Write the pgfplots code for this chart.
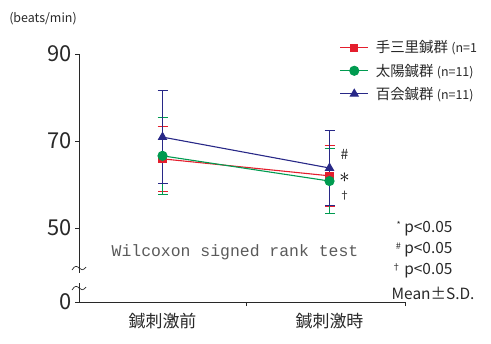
\documentclass[border=0pt]{standalone}
\usepackage{fontspec}
\setmainfont{Noto Sans CJK JP}
\newfontfamily\monofont{Liberation Mono}
\usepackage{pgfplots}
\pgfplotsset{compat=1.18}
\definecolor{cred}{RGB}{228,30,45}
\definecolor{cgreen}{RGB}{0,155,80}
\definecolor{cblue}{RGB}{40,40,135}
\definecolor{txt}{RGB}{40,40,40}
\definecolor{wtxt}{RGB}{90,90,90}
\begin{document}
\begin{tikzpicture}[x=1bp,y=1bp]
\path[use as bounding box] (0,0) rectangle (491,343);
\begin{axis}[
  at={(79bp,41bp)}, anchor=south west, scale only axis,
  width=326bp, height=248bp,
  xmin=0, xmax=1.952, ymin=33.0, ymax=90,
  axis lines*=left,
  axis line style={txt, line width=0.8bp},
  tick style={txt, line width=0.8bp},
  major tick length=4bp, tick align=outside,
  ytick={33.0,50,70,90}, yticklabels={0,50,70,90},
  xtick={1,1.952}, xticklabels={,},
  extra x ticks={0.5,1.5},
  extra x tick labels={鍼刺激前,鍼刺激時},
  extra x tick style={major tick length=0pt},
  y tick label style={font=\fontsize{22}{22}\selectfont, text=txt},
  x tick label style={font=\fontsize{17}{17}\selectfont, text=txt, yshift=-8bp},
  /pgf/number format/assume math mode=true,
  clip=false,
  legend style={at={(axis description cs:0.79,1.07)}, anchor=north west,
    draw=none, fill=none, font=\fontsize{14.5}{16}\selectfont, text=txt,
    row sep=5.5bp, cells={anchor=west}},
  legend image code/.code={\draw[mark repeat=2,mark phase=2,#1] plot coordinates {(0bp,0bp)(14bp,0bp)(28bp,0bp)};},
]
\addplot+[cred, mark=square*, mark size=3.5bp, line width=1.1bp, mark options={solid, fill=cred},
  error bars/.cd, y dir=both, y explicit, error bar style={line width=1bp, cred},
  error mark options={cred, mark size=5bp, line width=1bp, rotate=90}]
  table[x=x, y=y, y error=e] {
x y e
0.5 65.9 7.4
1.5 62.0 7.0
};
\addlegendentry{\hspace{5bp}手三里鍼群 {\fontsize{12.5}{14}\selectfont (n=1}}
\addplot+[cgreen, mark=*, mark size=4.5bp, line width=1.1bp, mark options={solid, fill=cgreen},
  error bars/.cd, y dir=both, y explicit, error bar style={line width=1bp, cgreen},
  error mark options={cgreen, mark size=5bp, line width=1bp, rotate=90}]
  table[x=x, y=y, y error=e] {
x y e
0.5 66.6 8.8
1.5 60.8 7.5
};
\addlegendentry{\hspace{5bp}太陽鍼群 {\fontsize{12.5}{14}\selectfont (n=11)}}
\addplot+[cblue, mark=triangle*, mark size=4.5bp, line width=1.1bp, mark options={solid, fill=cblue},
  error bars/.cd, y dir=both, y explicit, error bar style={line width=1bp, cblue},
  error mark options={cblue, mark size=5bp, line width=1bp, rotate=90}]
  table[x=x, y=y, y error=e] {
x y e
0.5 70.9 10.7
1.5 63.8 8.7
};
\addlegendentry{\hspace{5bp}百会鍼群 {\fontsize{12.5}{14}\selectfont (n=11)}}
\node[font=\fontsize{14}{14}\selectfont, text=txt, inner sep=0pt] at (axis cs:1.59,66.9) {\#};
\node[text=black, inner sep=0pt] at (axis cs:1.59,61.6) {\fontsize{20}{20}\selectfont$\ast$};
\node[font=\fontsize{11}{11}\selectfont, text=txt, inner sep=0pt] at (axis cs:1.59,57.4) {†};
\node[font=\monofont\fontsize{16.5}{17}\selectfont, text=wtxt] at (axis cs:0.934,44.5) {Wilcoxon signed rank test};
\end{axis}
% axis break
\fill[white] (76,60) rectangle (82,70);
\draw[txt, line width=0.7bp] (72,73) .. controls (75,78) and (77,77) .. (79,75) .. controls (81,73) and (83,72) .. (86,76);
\draw[txt, line width=0.7bp] (72,53) .. controls (75,58) and (77,57) .. (79,55) .. controls (81,53) and (83,52) .. (86,56);
\node[font=\fontsize{12.5}{14}\selectfont, text=txt] at (43,324) {(beats/min)};
\node[anchor=east, font=\fontsize{15.5}{16}\selectfont, text=txt] at (456,114) {\raisebox{4bp}{\fontsize{9}{9}\selectfont *} p<0.05};
\node[anchor=east, font=\fontsize{15.5}{16}\selectfont, text=txt] at (456,93) {\raisebox{4bp}{\fontsize{9}{9}\selectfont \#} p<0.05};
\node[anchor=east, font=\fontsize{15.5}{16}\selectfont, text=txt] at (456,72) {\raisebox{4bp}{\fontsize{9}{9}\selectfont †} p<0.05};
\node[anchor=east, font=\fontsize{15.5}{16}\selectfont, text=txt] at (478,50) {Mean±S.D.};
\end{tikzpicture}
\end{document}
